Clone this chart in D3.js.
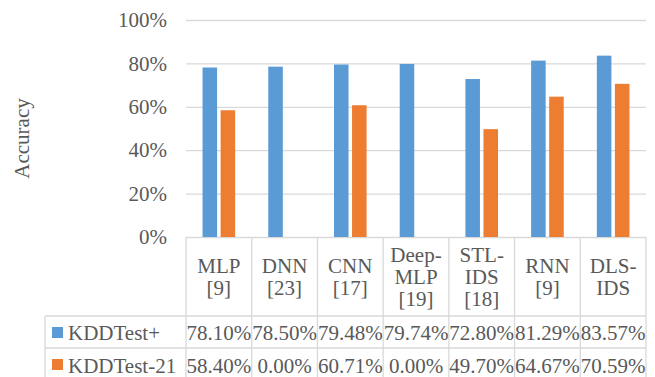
<!DOCTYPE html>
<html>
<head>
<meta charset="utf-8">
<script src="https://cdn.jsdelivr.net/npm/d3@7"></script>
<style>
  html, body { margin: 0; padding: 0; background: #fff; }
  svg { display: block; }
</style>
</head>
<body>
<svg id="chart" width="655" height="377"></svg>
<script>
// Models compared (each entry is the lines of its header cell)
const categories = [
  ["MLP", "[9]"],
  ["DNN", "[23]"],
  ["CNN", "[17]"],
  ["Deep-", "MLP", "[19]"],
  ["STL-", "IDS", "[18]"],
  ["RNN", "[9]"],
  ["DLS-", "IDS"]
];
const seriesNames = ["KDDTest+", "KDDTest-21"];
const kddTestPlus = [78.10, 78.50, 79.48, 79.74, 72.80, 81.29, 83.57];
const kddTest21 = [58.40, 0.00, 60.71, 0.00, 49.70, 64.67, 70.59];
const yTicks = [0, 20, 40, 60, 80, 100];
const colors = ["#5B9BD5", "#ED7D31"];

const series = [kddTestPlus, kddTest21];

const FONT = "'Liberation Serif', 'Times New Roman', Times, serif";
const TEXT_COLOR = "#595959";
const fontSize = 21;
const gridColor = "#d9d9d9";

const svg = d3.select("#chart")
  .style("font-family", FONT);
const plot = { left: 186, right: 646, top: 20, bottom: 237 };
const table = { left: 45, headerBottom: 316, row1Bottom: 348, row2Bottom: 380 };

function styleText(sel) {
  return sel
    .style("font-family", FONT)
    .style("font-size", fontSize + "px")
    .style("fill", TEXT_COLOR);
}

const x = d3.scaleBand()
  .domain(d3.range(categories.length))
  .range([plot.left, plot.right])
  .padding(0);

const xInner = d3.scaleBand()
  .domain(d3.range(series.length))
  .range([0, x.bandwidth()])
  .paddingInner(0.194)
  .paddingOuter(0.917);

const y = d3.scaleLinear().domain([0, 100]).range([plot.bottom, plot.top]);

// Horizontal gridlines and percentage tick labels
const yAxis = d3.axisLeft(y)
  .tickValues(yTicks)
  .tickSize(-(plot.right - plot.left))
  .tickPadding(19)
  .tickFormat(d => d + "%");

const gy = svg.append("g")
  .attr("transform", `translate(${plot.left},0)`)
  .call(yAxis)
  .attr("font-family", null)
  .attr("font-size", null);
gy.select(".domain").remove();
gy.selectAll(".tick line").attr("stroke", gridColor).attr("stroke-width", 1.3);
styleText(gy.selectAll(".tick text"));

// Axis title
styleText(svg.append("text")
  .attr("transform", `translate(29,${(plot.top + plot.bottom) / 2 + 10}) rotate(-90)`)
  .attr("text-anchor", "middle")
  .text("Accuracy"));

// Bars
const groups = svg.append("g").selectAll("g")
  .data(series)
  .join("g")
  .attr("fill", (d, i) => colors[i]);

groups.each(function (values, si) {
  d3.select(this).selectAll("rect")
    .data(values)
    .join("rect")
    .attr("x", (v, ci) => x(ci) + xInner(si))
    .attr("width", xInner.bandwidth())
    .attr("y", v => y(v))
    .attr("height", v => y(0) - y(v));
});

// Data table lines
const lines = svg.append("g")
  .attr("stroke", gridColor)
  .attr("stroke-width", 1.3)
  .attr("fill", "none");

// verticals between category columns
x.domain().concat([categories.length]).forEach(i => {
  const xx = i < categories.length ? x(i) : plot.right;
  lines.append("line")
    .attr("x1", xx).attr("x2", xx)
    .attr("y1", plot.bottom).attr("y2", table.row2Bottom);
});
// left edge of series label column
lines.append("line")
  .attr("x1", table.left).attr("x2", table.left)
  .attr("y1", table.headerBottom).attr("y2", table.row2Bottom);
// row separators
[table.headerBottom, table.row1Bottom].forEach(yy => {
  lines.append("line")
    .attr("x1", table.left).attr("x2", plot.right)
    .attr("y1", yy).attr("y2", yy);
});

// Category header text
const lineHeight = 22;
const headerMid = (plot.bottom + table.headerBottom) / 2;
styleText(svg.append("g").selectAll("text")
  .data(categories)
  .join("text"))
  .attr("text-anchor", "middle")
  .attr("x", (d, i) => x(i) + x.bandwidth() / 2)
  .attr("y", d => headerMid - (d.length - 1) * lineHeight / 2 + 7)
  .each(function (d) {
    const cx = d3.select(this).attr("x");
    d3.select(this).selectAll("tspan")
      .data(d)
      .join("tspan")
      .attr("x", cx)
      .attr("dy", (t, j) => j === 0 ? 0 : lineHeight)
      .text(t => t);
  });

// Series rows: legend key, name, values
const rowTops = [table.headerBottom, table.row1Bottom];
const rowBaselines = [340, 373];
const fmt = v => v.toFixed(2) + "%";

series.forEach((values, si) => {
  const top = rowTops[si];
  svg.append("rect")
    .attr("x", 52)
    .attr("y", top + 11)
    .attr("width", 11)
    .attr("height", 11)
    .attr("fill", colors[si]);
  styleText(svg.append("text")
    .attr("x", 68)
    .attr("y", rowBaselines[si])
    .text(seriesNames[si]));
  styleText(svg.append("g").selectAll("text")
    .data(values)
    .join("text"))
    .attr("text-anchor", "middle")
    .attr("x", (v, ci) => x(ci) + x.bandwidth() / 2)
    .attr("y", rowBaselines[si])
    .text(fmt);
});
</script>
</body>
</html>
